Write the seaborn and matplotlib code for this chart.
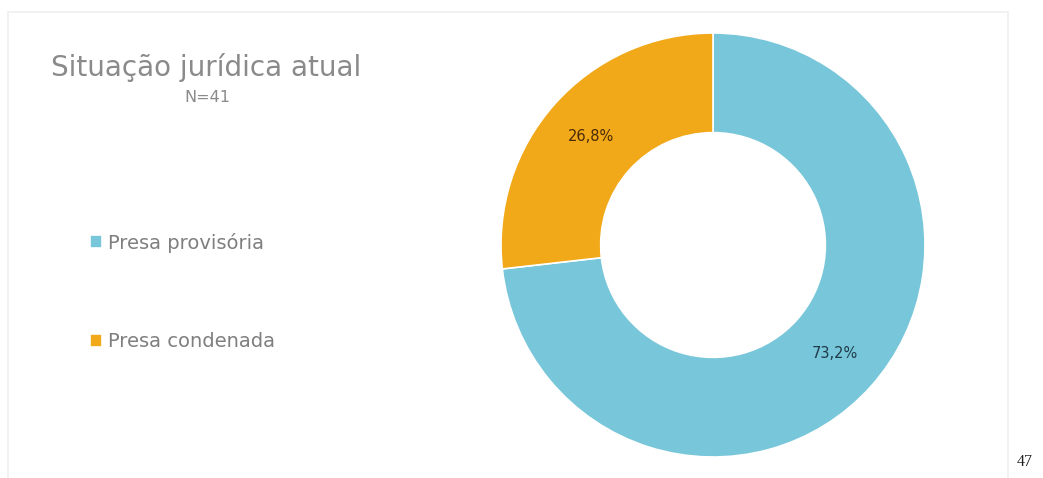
import matplotlib
matplotlib.use("Agg")
import matplotlib.pyplot as plt
import seaborn as sns
from matplotlib.patches import Rectangle

categories = ["Presa provisória", "Presa condenada"]
values = [73.2, 26.8]
pct_labels = ["73,2%", "26,8%"]
colors = ["#78C6D9", "#F1A819"]
label_colors = ["#1E3A48", "#4A2A08"]

title = "Situação jurídica atual"
subtitle = "N=41"
page_number = "47"

sns.set_theme(style="white")
plt.rcParams["font.family"] = ["DejaVu Sans"]

W, H = 1043, 478
fig = plt.figure(figsize=(W / 100, H / 100), dpi=100)
fig.patch.set_facecolor("white")

# faint slide border
fig.add_artist(Rectangle((8 / W, -0.01), 1000 / W, (H - 12) / H + 0.01, transform=fig.transFigure,
                         fill=False, edgecolor="#F0F0F0", linewidth=1.2))

cx, cy, R = 713, 245, 212
ax = fig.add_axes([(cx - R) / W, (H - cy - R) / H, 2 * R / W, 2 * R / H])
wedges, texts, autotexts = ax.pie(
    values, colors=colors, startangle=90, counterclock=False,
    autopct="%1.1f%%", pctdistance=0.77,
    wedgeprops=dict(width=0.47, edgecolor="white", linewidth=1.2),
)
for t, lab, c in zip(autotexts, pct_labels, label_colors):
    t.set_text(lab)
    t.set_color(c)
    t.set_fontsize(10.5)
ax.set_xlim(-1, 1)
ax.set_ylim(-1, 1)
ax.set_aspect("equal")
ax.axis("off")

fig.text(206 / W, 1 - 67 / H, title, ha="center", va="center", fontsize=20, color="#8A8A8A")
fig.text(207 / W, 1 - 97 / H, subtitle, ha="center", va="center", fontsize=11.5, color="#8A8A8A")

leg = fig.legend(wedges, categories, loc="upper left", bbox_to_anchor=(80 / W, 1 - 223 / H),
                 frameon=False, fontsize=14, labelspacing=4.1, handlelength=0.65,
                 handleheight=0.65, handletextpad=0.3, borderpad=0)
for t in leg.get_texts():
    t.set_color("#7F7F7F")

fig.text(1025 / W, 1 - 462 / H, page_number, ha="center", va="center", fontsize=11.5,
         family="Liberation Serif", color="#222222")

fig.savefig("out.png", dpi=100)
